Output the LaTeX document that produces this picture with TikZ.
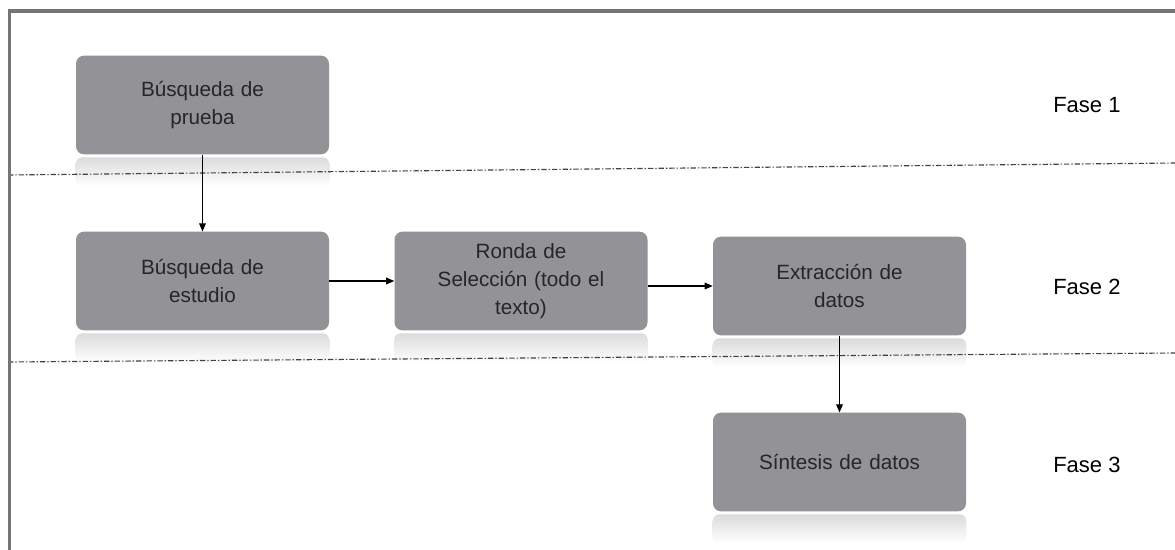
\documentclass[tikz,border=0pt]{standalone}
\usepackage{fontspec}
\setmainfont{Liberation Sans}
\usetikzlibrary{arrows.meta}
\definecolor{boxgray}{HTML}{939397}
\definecolor{framegray}{HTML}{767474}
\definecolor{boxtext}{HTML}{262626}
\definecolor{rulegray}{HTML}{404040}
\tikzset{
  stage/.style={fill=boxgray, rounded corners=6pt, minimum width=189.75pt,
    minimum height=74pt, text width=150pt, align=center, text=boxtext,
    font=\fontsize{15.5}{21}\selectfont, inner sep=0pt},
  flow/.style={-{Triangle[length=6pt,width=5pt]}, line width=0.8pt},
  phase/.style={font=\fontsize{16.5}{20}\selectfont, anchor=west, inner sep=0pt},
  divider/.style={dash pattern=on 4pt off 1.5pt on 1pt off 1.5pt, line width=0.85pt, rulegray},
  outline/.style={framegray, line width=2.4pt},
}
% soft mirror strip under a stage box
\newcommand\mirror[1]{%
  \shade[top color=black!14, bottom color=white, rounded corners=5pt]
    ([yshift=-2pt]#1.south west) rectangle ([yshift=-24pt]#1.south east);}
\begin{document}
\begin{tikzpicture}[x=0.75pt, y=-0.75pt]
  \useasboundingbox (0,0) rectangle (1175,550);
  \fill[white] (0,0) rectangle (1175,550);

  % stages
  \node[stage] (search)  at (202.5,105) {Búsqueda de\\prueba};
  \node[stage] (study)   at (202.5,281) {Búsqueda de\\estudio};
  \node[stage] (screen)  at (521,281)   {Ronda de\\Selección (todo el\\texto)};
  \node[stage] (extract) at (839.5,286) {Extracción de\\datos};
  \node[stage] (synth)   at (839.5,462) {Síntesis de datos};

  \foreach \n in {search,study,screen,extract,synth}{\mirror{\n}}

  % phase separators
  \draw[divider] (8,175) -- (1175,163);
  \draw[divider] (8,362) -- (1175,353);

  % phase labels
  \node[phase] (f1) at (1053,105) {Fase 1};
  \node[phase] (f2) at (1053,287) {Fase 2};
  \node[phase] (f3) at (1053,465) {Fase 3};

  % flow
  \draw[flow] (search.south) -- (study.north);
  \draw[flow] (study.east) -- (screen.west);
  \draw[flow] (screen.east |- extract.west) -- (extract.west);
  \draw[flow] (extract.south) -- (synth.north);

  % frame
  \draw[outline] (9.5,550) -- (9.5,11) -- (1175,11);
\end{tikzpicture}
\end{document}
